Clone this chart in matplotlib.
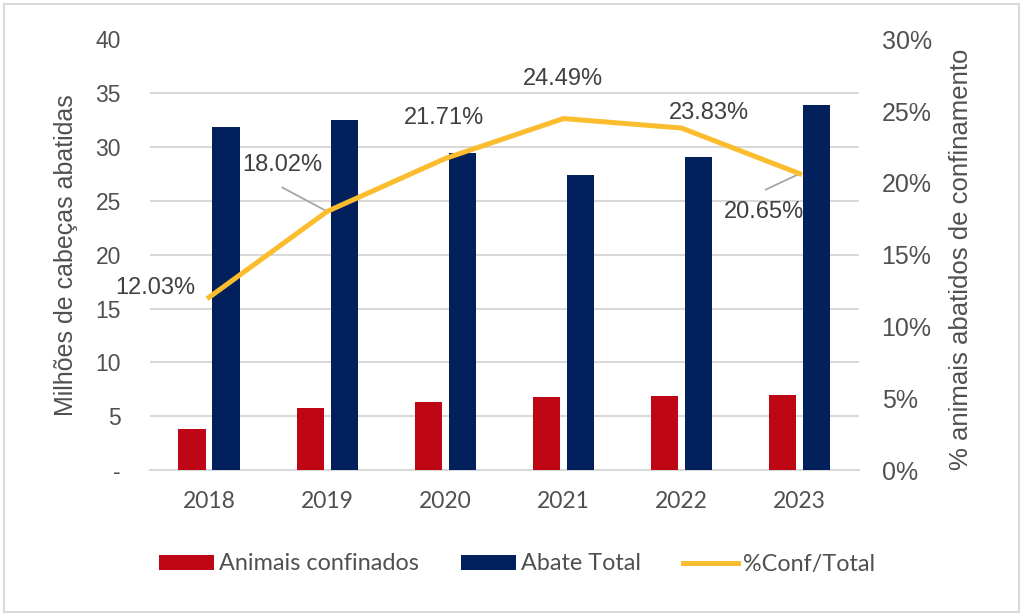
import matplotlib
matplotlib.use("Agg")
import matplotlib.pyplot as plt
import numpy as np
from matplotlib.patches import Rectangle

years = ["2018", "2019", "2020", "2021", "2022", "2023"]
confinados = [3.8, 5.8, 6.35, 6.75, 6.9, 6.95]
abate_total = [31.85, 32.5, 29.5, 27.45, 29.1, 33.9]
pct_conf = [12.03, 18.02, 21.71, 24.49, 23.83, 20.65]
pct_labels = ["12.03%", "18.02%", "21.71%", "24.49%", "23.83%", "20.65%"]
left_ticks = [0, 5, 10, 15, 20, 25, 30, 35, 40]
left_ticklabels = ["-", "5", "10", "15", "20", "25", "30", "35", "40"]
right_ticks = [0, 5, 10, 15, 20, 25, 30]
right_ticklabels = ["0%", "5%", "10%", "15%", "20%", "25%", "30%"]

RED = "#BF0615"
NAVY = "#02215C"
YEL = "#FBBC2E"
GRID = "#D9D9D9"
TXT = "#505050"
DLAB = "#404040"
ARIAL = "Liberation Sans"
CAL = "Lato"

W, H = 1024, 616
fig = plt.figure(figsize=(W / 100, H / 100), dpi=100)
fig.patches.append(Rectangle((4 / W, 4 / H), 1015 / W, 608 / H, transform=fig.transFigure,
                             fill=False, edgecolor=GRID, linewidth=1.5))

x0, x1, ytop, ybot = 150, 858.7, 39.5, 470
ax = fig.add_axes([x0 / W, 1 - ybot / H, (x1 - x0) / W, (ybot - ytop) / H])
x = np.arange(len(years))
bw = 0.23
off = 0.144
ax.bar(x - off, confinados, bw, color=RED, label="Animais confinados", zorder=3)
ax.bar(x + off, abate_total, bw, color=NAVY, label="Abate Total", zorder=3)
ax.set_xlim(-0.5, len(years) - 0.5)
ax.set_ylim(0, 40)
ax.set_yticks(left_ticks)
ax.set_yticklabels(left_ticklabels, fontfamily=ARIAL, fontsize=16.5, color=TXT)
ax.set_xticks(x)
ax.set_xticklabels(years, fontfamily=CAL, fontsize=16.5, color=TXT)
ax.tick_params(axis="both", length=0)
ax.tick_params(axis="y", pad=21)
ax.tick_params(axis="x", pad=15)
ax.grid(axis="y", color=GRID, linewidth=1.5, zorder=0)
for s in ["top", "right", "left"]:
    ax.spines[s].set_visible(False)
ax.spines["bottom"].set_color(GRID)
ax.spines["bottom"].set_linewidth(1.5)
ax.set_ylabel("Milhões de cabeças abatidas", fontfamily=ARIAL, fontsize=18, color=TXT)
ax.yaxis.set_label_coords(-0.102, 0.5)

ax2 = ax.twinx()
ax2.plot(x, pct_conf, color=YEL, linewidth=3.6, solid_joinstyle="round", label="%Conf/Total", zorder=4)
ax2.set_ylim(0, 30)
ax2.set_yticks(right_ticks)
ax2.set_yticklabels(right_ticklabels, fontfamily=ARIAL, fontsize=18, color=TXT)
ax2.tick_params(axis="y", length=0, pad=16.5)
for s in ["top", "right", "left", "bottom"]:
    ax2.spines[s].set_visible(False)
ax2.set_ylabel("% animais abatidos de confinamento", fontfamily=ARIAL, fontsize=18.5, color=TXT)
ax2.yaxis.set_label_coords(1.127, 0.49)

# data labels: offsets in pixels (dx, dy up)
offsets = [(-54, 9.4), (-45, 46), (-1, 40.5), (0, 40), (27.5, 14.7), (-36, -38.6)]
k = 72 / 100
for i, (dx, dy) in enumerate(offsets):
    ax2.annotate(pct_labels[i], (x[i], pct_conf[i]), xytext=(dx * k, dy * k),
                 textcoords="offset points", ha="center", va="center",
                 fontfamily=ARIAL, fontsize=17, color=DLAB, zorder=5)
# leader lines
leaders = {1: (-45, 24), 5: (-34, -16)}
for i, (dx, dy) in leaders.items():
    ax2.annotate("", (x[i], pct_conf[i]), xytext=(dx * k, dy * k), textcoords="offset points",
                 arrowprops=dict(arrowstyle="-", color="#A6A6A6", lw=1.3, shrinkA=0, shrinkB=0))

h1, l1 = ax.get_legend_handles_labels()
h2, l2 = ax2.get_legend_handles_labels()
fig.legend(h1 + h2, l1 + l2, loc="center", bbox_to_anchor=(517 / W, 1 - 564 / H), ncol=3,
           frameon=False, prop={"family": CAL, "size": 16.8}, labelcolor=TXT,
           handlelength=2.35, handleheight=0.62, handletextpad=0.22, columnspacing=1.8)

fig.savefig("out.png", dpi=100)
